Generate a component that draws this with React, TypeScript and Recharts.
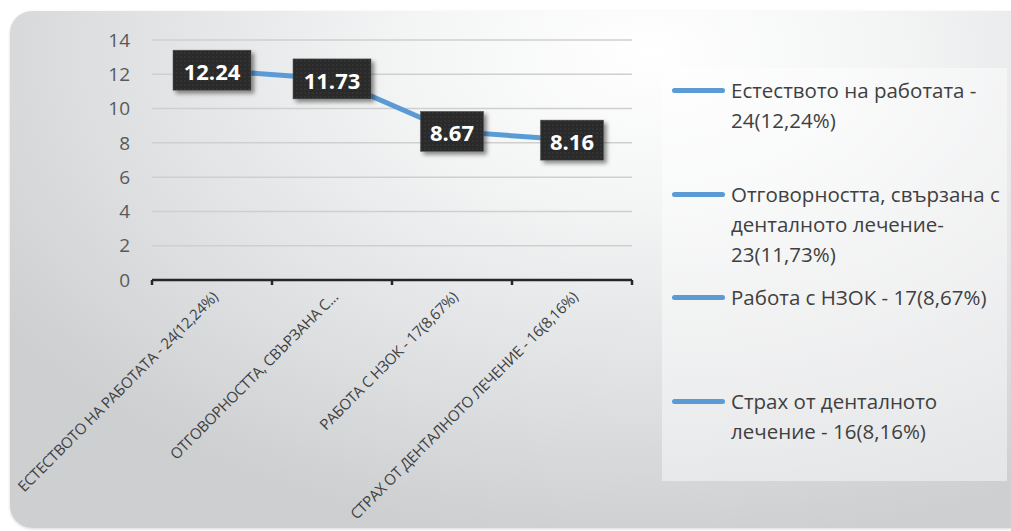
import React from 'react';
import { LineChart, Line, XAxis, YAxis, CartesianGrid, LabelList } from 'recharts';

const categories = [
  'Естеството на работата - 24(12,24%)',
  'Отговорността, свързана с денталното лечение- 23(11,73%)',
  'Работа с НЗОК - 17(8,67%)',
  'Страх от денталното лечение - 16(8,16%)',
];
const axisLabels = [
  'ЕСТЕСТВОТО НА РАБОТАТА - 24(12,24%)',
  'ОТГОВОРНОСТТА, СВЪРЗАНА С...',
  'РАБОТА С НЗОК - 17(8,67%)',
  'СТРАХ ОТ ДЕНТАЛНОТО ЛЕЧЕНИЕ - 16(8,16%)',
];
const values = [12.24, 11.73, 8.67, 8.16];
const yTicks = [0, 2, 4, 6, 8, 10, 12, 14];

const data = categories.map((name, i) => ({ name, label: axisLabels[i], value: values[i] }));

const BLUE = '#5B9BD5';
const FONT = '"Open Sans", sans-serif';

const XTick = (props: any) => {
  const { x, y, payload, index, visibleTicksCount } = props;
  const off = payload && payload.offset ? payload.offset : 60;
  const label = axisLabels[index] ?? payload.value;
  const isLast = index === (visibleTicksCount ?? axisLabels.length) - 1;
  const ax = x + 7;
  const ay = y + 18;
  return (
    <g>
      <line x1={x - off} y1={y} x2={x - off} y2={y + 5} stroke="#262626" strokeWidth={2.5} />
      {isLast && <line x1={x + off} y1={y} x2={x + off} y2={y + 5} stroke="#262626" strokeWidth={2.5} />}
      <text
        x={ax}
        y={ay}
        transform={`rotate(-45, ${ax}, ${ay})`}
        textAnchor="end"
        fill="#404040"
        fontSize={15}
        fontFamily={FONT}
        letterSpacing={-0.3}
      >
        {label}
      </text>
    </g>
  );
};

const ValueLabel = (props: any) => {
  const { x, y, value, index } = props;
  const text = Number(value).toFixed(2);
  const w = text.length * 15 + 3;
  const h = 40;
  const pid = `dots-${index}`;
  const fid = `shadow-${index}`;
  return (
    <g>
      <defs>
        <pattern id={pid} width="4" height="4" patternUnits="userSpaceOnUse">
          <rect width="4" height="4" fill="#2a2a2a" />
          <circle cx="1" cy="1" r="0.6" fill="#4a4a4a" />
        </pattern>
        <filter id={fid} x="-20%" y="-20%" width="150%" height="160%">
          <feDropShadow dx="3" dy="3" stdDeviation="2" floodColor="#000" floodOpacity="0.45" />
        </filter>
      </defs>
      <rect x={x - w / 2} y={y - h / 2} width={w} height={h} fill={`url(#${pid})`} stroke="#555" strokeWidth={0.5} filter={`url(#${fid})`} />
      <text x={x} y={y + 1} textAnchor="middle" dominantBaseline="central" fill="#fff" fontSize={22} fontWeight={700} fontFamily={FONT}>
        {text}
      </text>
    </g>
  );
};

export default function App() {
  return (
    <div style={{ position: 'fixed', left: 0, top: 0, width: 1011, height: 531, background: '#fff', overflow: 'hidden' }}>
      <div
        style={{
          position: 'absolute',
          left: 10,
          top: 11,
          width: 1030,
          height: 517,
          borderRadius: 22,
          background: 'radial-gradient(ellipse 75% 95% at 62% 8%, #ffffff 0%, #f4f5f5 30%, #dfe0e2 70%, #cdcfd1 100%)',
          boxShadow: '0 1px 3px rgba(0,0,0,0.15)',
        }}
      />
      <div style={{ position: 'absolute', left: 0, top: 0 }}>
        <LineChart width={1011} height={531} data={data} margin={{ top: 40, right: 379, bottom: 221, left: 112 }}>
          <CartesianGrid vertical={false} stroke="#cfcfcf" strokeWidth={1.5} />
          <XAxis
            dataKey="name"
            scale="band"
            height={30}
            tickSize={0}
            tickMargin={0}
            tickLine={false}
            axisLine={{ stroke: '#262626', strokeWidth: 2.5 }}
            tick={<XTick />}
            interval={0}
          />
          <YAxis
            domain={[0, 14]}
            ticks={yTicks}
            width={40}
            axisLine={false}
            tickLine={false}
            tickSize={0}
            tickMargin={22}
            tick={{ fill: '#595959', fontSize: 19, fontFamily: FONT }}
          />
          <Line type="linear" dataKey="value" stroke={BLUE} strokeWidth={5} dot={false} isAnimationActive={false}>
            <LabelList dataKey="value" content={<ValueLabel />} />
          </Line>
        </LineChart>
      </div>
      <div
        style={{
          position: 'absolute',
          left: 662,
          top: 68,
          width: 345,
          height: 413,
          background: 'rgba(255,255,255,0.45)',
        }}
      >
        {categories.map((c, i) => (
          <div key={c} style={{ position: 'absolute', left: 0, top: 7 + i * 103.5, width: 345 }}>
            <div style={{ position: 'absolute', left: 10, top: 13, width: 53, height: 5, borderRadius: 3, background: BLUE }} />
            <div
              style={{
                position: 'absolute',
                left: 69,
                top: 0,
                width: 280,
                fontFamily: FONT,
                fontSize: 20.5,
                lineHeight: '30px',
                color: '#404040',
              }}
            >
              {c}
            </div>
          </div>
        ))}
      </div>
    </div>
  );
}
